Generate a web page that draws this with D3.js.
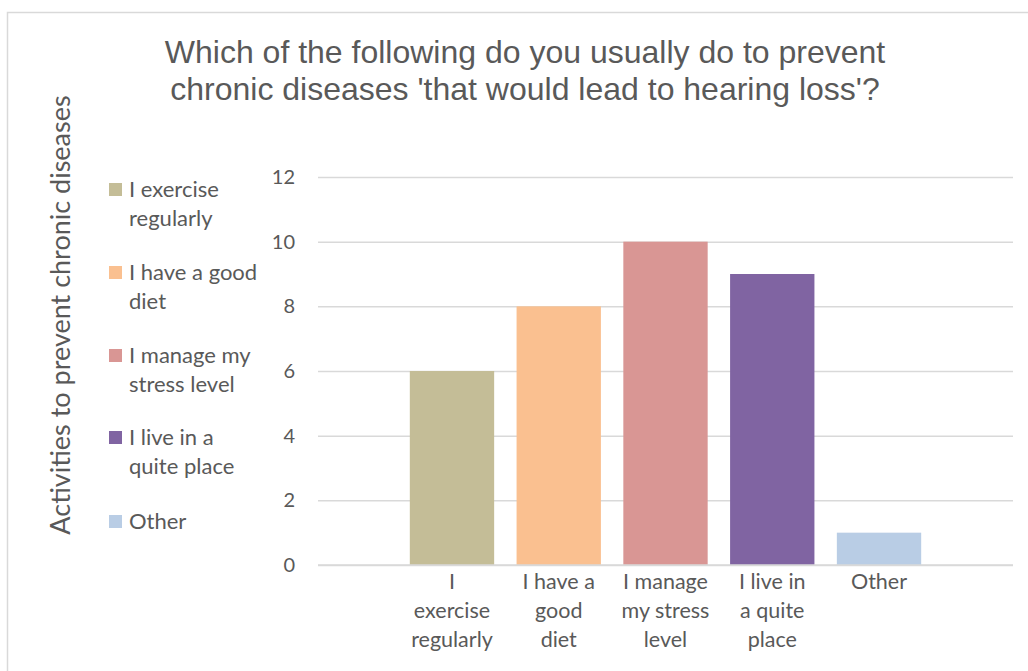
<!DOCTYPE html>
<html>
<head>
  <meta charset="utf-8">
  <title>Preventing chronic diseases</title>
  <script src="https://cdn.jsdelivr.net/npm/d3@7"></script>
  <style>
    body { margin: 0; background: #fff; }
    text { font-family: Lato, "Open Sans", sans-serif; fill: #595959; }
  </style>
</head>
<body>
<script>
var categories = ["I exercise regularly", "I have a good diet", "I manage my stress level", "I live in a quite place", "Other"];
var values = [6, 8, 10, 9, 1];
var colors = ["#c4bd97", "#fac090", "#d99694", "#8064a2", "#b9cde5"];
var yTicks = [0, 2, 4, 6, 8, 10, 12];
// wrapped lines as drawn under the axis and in the legend
var axisLines = [["I", "exercise", "regularly"], ["I have a", "good", "diet"], ["I manage", "my stress", "level"], ["I live in", "a quite", "place"], ["Other"]];
var legendLines = [["I exercise", "regularly"], ["I have a good", "diet"], ["I manage my", "stress level"], ["I live in a", "quite place"], ["Other"]];

var w = 1028, h = 671;
var svg = d3.select("body").append("svg").attr("width", w).attr("height", h);

// outer chart border
svg.append("rect")
  .attr("x", 7.5).attr("y", 12.5)
  .attr("width", w + 20).attr("height", h + 20)
  .attr("fill", "none").attr("stroke", "#d9d9d9").attr("stroke-width", 1.5);

// title
var title = svg.append("text")
  .attr("text-anchor", "middle")
  .attr("font-size", 32)
  .style("font-family", "'Liberation Sans Narrow', 'Liberation Sans', sans-serif");
title.append("tspan").attr("x", 525).attr("y", 63).text("Which of the following do you usually do to prevent");
title.append("tspan").attr("x", 525).attr("y", 100).text("chronic diseases 'that would lead to hearing loss'?");

var x0 = 318, x1 = 1013, yTop = 177, yBot = 565;

var xScale = d3.scaleBand()
  .domain(categories)
  .range([x0, x1])
  .paddingInner(0.21)
  .paddingOuter(0.86);

var yScale = d3.scaleLinear()
  .domain([0, 12])
  .range([yBot, yTop]);

// gridlines + tick labels
var yAxis = d3.axisLeft(yScale).tickValues(yTicks).tickSize(-(x1 - x0)).tickPadding(23);
var gy = svg.append("g").attr("transform", "translate(" + x0 + ",0)").call(yAxis);
gy.select(".domain").remove();
gy.selectAll(".tick line").attr("stroke", "#d9d9d9").attr("stroke-width", 1.5);
gy.selectAll(".tick text").attr("font-size", 20).attr("fill", "#595959")
  .style("font-family", "Lato, 'Open Sans', sans-serif");

// bars
svg.selectAll("rect.bar")
  .data(values)
  .enter()
  .append("rect")
  .attr("class", "bar")
  .attr("x", function(d, i) { return xScale(categories[i]); })
  .attr("y", function(d) { return yScale(d); })
  .attr("width", xScale.bandwidth())
  .attr("height", function(d) { return yBot - yScale(d); })
  .attr("fill", function(d, i) { return colors[i]; });

// baseline redrawn on top of bars
svg.append("line")
  .attr("x1", x0).attr("x2", x1)
  .attr("y1", yScale(0)).attr("y2", yScale(0))
  .attr("stroke", "#d9d9d9").attr("stroke-width", 1.5);

// x labels
var xl = svg.selectAll("text.xlab")
  .data(categories)
  .enter()
  .append("text")
  .attr("class", "xlab")
  .attr("text-anchor", "middle")
  .attr("font-size", 21.5);
xl.each(function(d, i) {
  var cx = xScale(d) + xScale.bandwidth() / 2;
  d3.select(this).selectAll("tspan")
    .data(axisLines[i])
    .enter()
    .append("tspan")
    .attr("x", cx)
    .attr("y", function(t, j) { return 589 + j * 29; })
    .text(function(t) { return t; });
});

// y axis title
svg.append("text")
  .attr("transform", "translate(70,315) rotate(-90)")
  .attr("text-anchor", "middle")
  .attr("font-size", 27)
  .text("Activities to prevent chronic diseases");

// legend
var legendY = [190, 273, 356, 438, 522];
var lg = svg.selectAll("g.leg")
  .data(categories)
  .enter()
  .append("g")
  .attr("class", "leg")
  .attr("transform", function(d, i) { return "translate(109," + legendY[i] + ")"; });
lg.append("rect")
  .attr("x", 0).attr("y", -7)
  .attr("width", 13).attr("height", 13)
  .attr("fill", function(d, i) { return colors[i]; });
lg.each(function(d, i) {
  d3.select(this).append("text")
    .attr("font-size", 22)
    .selectAll("tspan")
    .data(legendLines[i])
    .enter()
    .append("tspan")
    .attr("x", 20)
    .attr("y", function(t, j) { return 7 + j * 29; })
    .text(function(t) { return t; });
});
</script>
</body>
</html>
